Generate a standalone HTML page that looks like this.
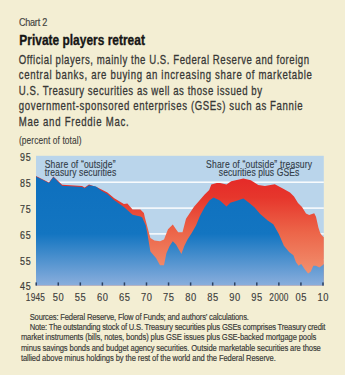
<!DOCTYPE html>
<html><head><meta charset="utf-8"><style>
html,body{margin:0;padding:0;background:#F3EED3;width:345px;height:375px;overflow:hidden}
svg{position:absolute;left:0;top:0;display:block}
text{font-family:"Liberation Sans",sans-serif}
</style></head><body>
<svg width="345" height="375" viewBox="0 0 345 375">
<defs>
<linearGradient id="gb" x1="0" y1="156.5" x2="0" y2="285.5" gradientUnits="userSpaceOnUse">
<stop offset="0" stop-color="#0C6EBD"/><stop offset="0.6" stop-color="#1375C1"/><stop offset="1" stop-color="#8AAEDC"/>
</linearGradient>
<linearGradient id="gr" x1="0" y1="178" x2="0" y2="275" gradientUnits="userSpaceOnUse">
<stop offset="0" stop-color="#E52A28"/><stop offset="0.2" stop-color="#E6362C"/><stop offset="0.55" stop-color="#EC6448"/><stop offset="1" stop-color="#F29270"/>
</linearGradient>
</defs>
<rect x="36" y="155.8" width="287.8" height="129.7" fill="#BAD5EB"/>
<rect x="36" y="181.5" width="287.8" height="1.4" fill="#FFFFFF"/>
<rect x="36" y="207.4" width="287.8" height="1.4" fill="#FFFFFF"/>
<rect x="36" y="233.2" width="287.8" height="1.4" fill="#FFFFFF"/>
<rect x="36" y="259.0" width="287.8" height="1.4" fill="#FFFFFF"/>
<path d="M36.0,285.5 L36.0,176.0 L49.0,182.4 L53.4,176.4 L62.1,184.8 L82.0,186.0 L84.7,187.4 L89.0,184.5 L97.0,187.3 L101.0,189.3 L107.4,192.5 L114.3,198.2 L123.9,204.0 L127.4,203.5 L132.6,209.6 L140.4,209.6 L143.9,213.0 L144.8,217.2 L148.0,229.2 L150.4,238.0 L154.4,240.4 L160.0,241.2 L164.0,239.6 L168.0,229.2 L172.8,224.4 L176.0,229.2 L178.2,232.3 L182.5,232.3 L186.0,218.8 L194.0,206.8 L198.8,201.2 L204.4,194.8 L209.2,190.0 L211.3,184.6 L216.7,183.1 L220.0,183.1 L226.5,184.6 L231.2,181.2 L243.4,178.4 L250.8,180.3 L258.3,185.0 L264.9,185.9 L274.8,184.3 L282.8,188.6 L290.0,192.6 L294.0,196.6 L298.0,203.0 L302.0,207.0 L306.0,213.4 L309.2,215.0 L314.2,213.2 L316.0,216.8 L318.4,227.6 L320.2,233.0 L322.0,235.4 L323.8,237.2 L323.8,285.5 Z" fill="url(#gr)"/>
<path d="M36.0,285.5 L36.0,176.6 L49.0,183.0 L53.4,177.0 L62.1,185.7 L82.0,186.9 L84.7,188.3 L89.0,185.3 L96.0,186.5 L101.0,190.5 L107.4,194.0 L114.3,200.3 L123.9,207.0 L132.6,214.8 L140.4,216.5 L142.2,217.4 L145.7,225.2 L147.2,232.4 L150.4,251.6 L156.0,258.0 L160.0,265.2 L164.0,265.2 L166.4,253.2 L169.6,246.0 L172.8,241.2 L176.0,244.4 L181.4,254.0 L184.3,245.9 L187.5,239.5 L191.7,233.1 L196.0,225.5 L199.8,216.2 L204.6,207.2 L209.4,200.6 L213.5,197.4 L219.9,200.6 L226.5,206.4 L230.3,202.7 L236.8,200.8 L243.4,198.4 L249.0,202.7 L254.6,207.4 L260.2,213.9 L267.7,220.5 L273.3,224.2 L278.7,233.7 L283.9,245.8 L289.1,251.9 L293.4,255.3 L296.0,262.3 L298.6,265.7 L301.2,264.0 L304.7,269.2 L308.1,273.5 L310.7,271.8 L313.3,265.7 L315.9,265.7 L319.4,267.5 L322.9,264.9 L323.8,264.0 L323.8,285.5 Z" fill="url(#gb)"/>
<rect x="35.45" y="282.4" width="1.5" height="3.2" fill="#2c4262"/>
<rect x="57.51" y="282.4" width="1.5" height="3.2" fill="#2c4262"/>
<rect x="79.57" y="282.4" width="1.5" height="3.2" fill="#2c4262"/>
<rect x="101.63" y="282.4" width="1.5" height="3.2" fill="#2c4262"/>
<rect x="123.69" y="282.4" width="1.5" height="3.2" fill="#2c4262"/>
<rect x="145.75" y="282.4" width="1.5" height="3.2" fill="#2c4262"/>
<rect x="167.81" y="282.4" width="1.5" height="3.2" fill="#2c4262"/>
<rect x="189.87" y="282.4" width="1.5" height="3.2" fill="#2c4262"/>
<rect x="211.93" y="282.4" width="1.5" height="3.2" fill="#2c4262"/>
<rect x="233.99" y="282.4" width="1.5" height="3.2" fill="#2c4262"/>
<rect x="256.05" y="282.4" width="1.5" height="3.2" fill="#2c4262"/>
<rect x="278.11" y="282.4" width="1.5" height="3.2" fill="#2c4262"/>
<rect x="300.17" y="282.4" width="1.5" height="3.2" fill="#2c4262"/>
<rect x="322.23" y="282.4" width="1.5" height="3.2" fill="#2c4262"/>
<text transform="translate(18.90 26.10) scale(0.780 1)" font-size="11.70" font-weight="normal" fill="#44443f" text-anchor="start" textLength="36.4" lengthAdjust="spacing" stroke="#44443f" stroke-width="0.20">Chart 2</text>
<text transform="translate(19.30 44.70) scale(0.840 1)" font-size="14.20" font-weight="bold" fill="#161615" text-anchor="start" textLength="149.5" lengthAdjust="spacing" stroke="#161615" stroke-width="0.35">Private players retreat</text>
<text transform="translate(18.80 63.90) scale(0.740 1)" font-size="13.00" font-weight="normal" fill="#373735" text-anchor="start" textLength="392.3" lengthAdjust="spacing" stroke="#373735" stroke-width="0.30">Official players, mainly the U.S. Federal Reserve and foreign</text>
<text transform="translate(18.80 79.40) scale(0.740 1)" font-size="13.00" font-weight="normal" fill="#373735" text-anchor="start" textLength="396.1" lengthAdjust="spacing" stroke="#373735" stroke-width="0.30">central banks, are buying an increasing share of marketable</text>
<text transform="translate(18.80 94.90) scale(0.740 1)" font-size="13.00" font-weight="normal" fill="#373735" text-anchor="start" textLength="328.6" lengthAdjust="spacing" stroke="#373735" stroke-width="0.30">U.S. Treasury securities as well as those issued by</text>
<text transform="translate(18.80 110.40) scale(0.740 1)" font-size="13.00" font-weight="normal" fill="#373735" text-anchor="start" textLength="383.5" lengthAdjust="spacing" stroke="#373735" stroke-width="0.30">government-sponsored enterprises (GSEs) such as Fannie</text>
<text transform="translate(18.80 126.00) scale(0.740 1)" font-size="13.00" font-weight="normal" fill="#373735" text-anchor="start" textLength="148.5" lengthAdjust="spacing" stroke="#373735" stroke-width="0.30">Mae and Freddie Mac.</text>
<text transform="translate(19.00 143.80) scale(0.800 1)" font-size="10.50" font-weight="normal" fill="#3c3c3a" text-anchor="start" textLength="78.1" lengthAdjust="spacing" stroke="#3c3c3a" stroke-width="0.12">(percent of total)</text>
<text transform="translate(30.60 160.90) scale(0.860 1)" font-size="10.40" font-weight="normal" fill="#3c3c39" text-anchor="end" textLength="12.2" lengthAdjust="spacing" stroke="#3c3c39" stroke-width="0.20">95</text>
<text transform="translate(30.60 186.60) scale(0.860 1)" font-size="10.40" font-weight="normal" fill="#3c3c39" text-anchor="end" textLength="12.2" lengthAdjust="spacing" stroke="#3c3c39" stroke-width="0.20">85</text>
<text transform="translate(30.60 212.50) scale(0.860 1)" font-size="10.40" font-weight="normal" fill="#3c3c39" text-anchor="end" textLength="12.2" lengthAdjust="spacing" stroke="#3c3c39" stroke-width="0.20">75</text>
<text transform="translate(30.60 239.00) scale(0.860 1)" font-size="10.40" font-weight="normal" fill="#3c3c39" text-anchor="end" textLength="12.2" lengthAdjust="spacing" stroke="#3c3c39" stroke-width="0.20">65</text>
<text transform="translate(30.60 264.60) scale(0.860 1)" font-size="10.40" font-weight="normal" fill="#3c3c39" text-anchor="end" textLength="12.2" lengthAdjust="spacing" stroke="#3c3c39" stroke-width="0.20">55</text>
<text transform="translate(30.60 289.70) scale(0.860 1)" font-size="10.40" font-weight="normal" fill="#3c3c39" text-anchor="end" textLength="12.2" lengthAdjust="spacing" stroke="#3c3c39" stroke-width="0.20">45</text>
<text transform="translate(35.40 300.60) scale(0.800 1)" font-size="10.40" font-weight="normal" fill="#40403d" text-anchor="middle" textLength="23.9" lengthAdjust="spacing" stroke="#40403d" stroke-width="0.15">1945</text>
<text transform="translate(58.26 300.60) scale(0.900 1)" font-size="10.40" font-weight="normal" fill="#40403d" text-anchor="middle" textLength="12.2" lengthAdjust="spacing" stroke="#40403d" stroke-width="0.15">50</text>
<text transform="translate(80.32 300.60) scale(0.900 1)" font-size="10.40" font-weight="normal" fill="#40403d" text-anchor="middle" textLength="12.2" lengthAdjust="spacing" stroke="#40403d" stroke-width="0.15">55</text>
<text transform="translate(102.38 300.60) scale(0.900 1)" font-size="10.40" font-weight="normal" fill="#40403d" text-anchor="middle" textLength="12.2" lengthAdjust="spacing" stroke="#40403d" stroke-width="0.15">60</text>
<text transform="translate(124.44 300.60) scale(0.900 1)" font-size="10.40" font-weight="normal" fill="#40403d" text-anchor="middle" textLength="12.2" lengthAdjust="spacing" stroke="#40403d" stroke-width="0.15">65</text>
<text transform="translate(146.50 300.60) scale(0.900 1)" font-size="10.40" font-weight="normal" fill="#40403d" text-anchor="middle" textLength="12.2" lengthAdjust="spacing" stroke="#40403d" stroke-width="0.15">70</text>
<text transform="translate(168.56 300.60) scale(0.900 1)" font-size="10.40" font-weight="normal" fill="#40403d" text-anchor="middle" textLength="12.2" lengthAdjust="spacing" stroke="#40403d" stroke-width="0.15">75</text>
<text transform="translate(190.62 300.60) scale(0.900 1)" font-size="10.40" font-weight="normal" fill="#40403d" text-anchor="middle" textLength="12.2" lengthAdjust="spacing" stroke="#40403d" stroke-width="0.15">80</text>
<text transform="translate(212.68 300.60) scale(0.900 1)" font-size="10.40" font-weight="normal" fill="#40403d" text-anchor="middle" textLength="12.2" lengthAdjust="spacing" stroke="#40403d" stroke-width="0.15">85</text>
<text transform="translate(234.74 300.60) scale(0.900 1)" font-size="10.40" font-weight="normal" fill="#40403d" text-anchor="middle" textLength="12.2" lengthAdjust="spacing" stroke="#40403d" stroke-width="0.15">90</text>
<text transform="translate(256.80 300.60) scale(0.900 1)" font-size="10.40" font-weight="normal" fill="#40403d" text-anchor="middle" textLength="12.2" lengthAdjust="spacing" stroke="#40403d" stroke-width="0.15">95</text>
<text transform="translate(278.86 300.60) scale(0.800 1)" font-size="10.40" font-weight="normal" fill="#40403d" text-anchor="middle" textLength="23.9" lengthAdjust="spacing" stroke="#40403d" stroke-width="0.15">2000</text>
<text transform="translate(300.92 300.60) scale(0.900 1)" font-size="10.40" font-weight="normal" fill="#40403d" text-anchor="middle" textLength="12.2" lengthAdjust="spacing" stroke="#40403d" stroke-width="0.15">05</text>
<text transform="translate(322.98 300.60) scale(0.900 1)" font-size="10.40" font-weight="normal" fill="#40403d" text-anchor="middle" textLength="12.2" lengthAdjust="spacing" stroke="#40403d" stroke-width="0.15">10</text>
<text transform="translate(44.70 167.60) scale(0.780 1)" font-size="11.00" font-weight="normal" fill="#333d48" text-anchor="start" textLength="90.8" lengthAdjust="spacing" stroke="#333d48" stroke-width="0.15">Share of “outside”</text>
<text transform="translate(44.70 175.80) scale(0.780 1)" font-size="11.00" font-weight="normal" fill="#333d48" text-anchor="start" textLength="91.7" lengthAdjust="spacing" stroke="#333d48" stroke-width="0.15">treasury securities</text>
<text transform="translate(206.10 167.60) scale(0.780 1)" font-size="11.00" font-weight="normal" fill="#333d48" text-anchor="start" textLength="135.9" lengthAdjust="spacing" stroke="#333d48" stroke-width="0.15">Share of “outside” treasury</text>
<text transform="translate(218.80 175.90) scale(0.780 1)" font-size="11.00" font-weight="normal" fill="#333d48" text-anchor="start" textLength="103.2" lengthAdjust="spacing" stroke="#333d48" stroke-width="0.15">securities plus GSEs</text>
<text transform="translate(29.70 319.60) scale(0.800 1)" font-size="9.50" font-weight="normal" fill="#3a3a37" text-anchor="start" textLength="274.0" lengthAdjust="spacing" stroke="#3a3a37" stroke-width="0.18">Sources: Federal Reserve, Flow of Funds; and authors’ calculations.</text>
<text transform="translate(29.70 330.00) scale(0.800 1)" font-size="9.50" font-weight="normal" fill="#3a3a37" text-anchor="start" textLength="369.5" lengthAdjust="spacing" stroke="#3a3a37" stroke-width="0.18">Note: The outstanding stock of U.S. Treasury securities plus GSEs comprises Treasury credit</text>
<text transform="translate(20.90 340.40) scale(0.800 1)" font-size="9.50" font-weight="normal" fill="#3a3a37" text-anchor="start" textLength="369.4" lengthAdjust="spacing" stroke="#3a3a37" stroke-width="0.18">market instruments (bills, notes, bonds) plus GSE issues plus GSE-backed mortgage pools</text>
<text transform="translate(20.90 350.70) scale(0.800 1)" font-size="9.50" font-weight="normal" fill="#3a3a37" text-anchor="start" textLength="374.9" lengthAdjust="spacing" stroke="#3a3a37" stroke-width="0.18">minus savings bonds and budget agency securities. Outside marketable securities are those</text>
<text transform="translate(20.90 360.90) scale(0.800 1)" font-size="9.50" font-weight="normal" fill="#3a3a37" text-anchor="start" textLength="318.6" lengthAdjust="spacing" stroke="#3a3a37" stroke-width="0.18">tallied above minus holdings by the rest of the world and the Federal Reserve.</text>
</svg>
</body></html>
